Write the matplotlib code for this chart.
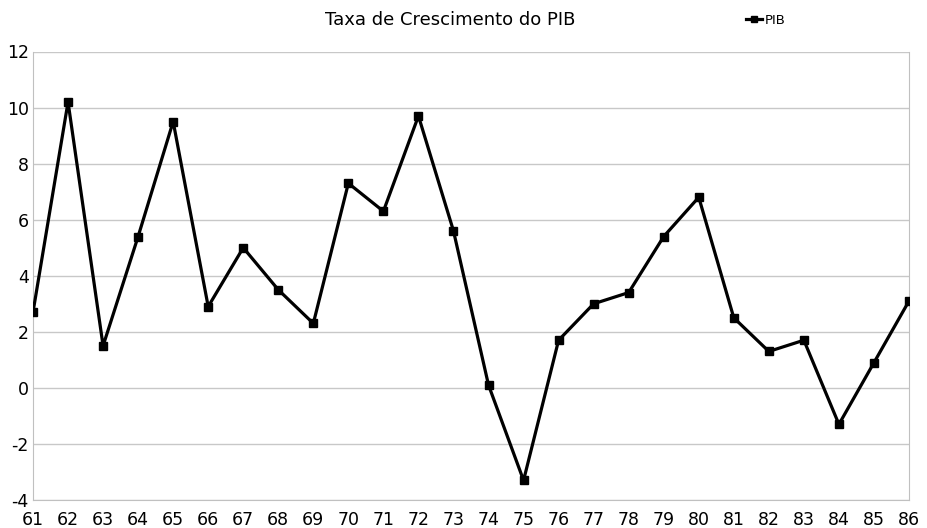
import matplotlib
matplotlib.use("Agg")
import matplotlib.pyplot as plt

plt.rcParams["axes.unicode_minus"] = False

years = list(range(61, 87))
pib = [2.7, 10.2, 1.5, 5.4, 9.5, 2.9, 5.0, 3.5, 2.3, 7.3, 6.3, 9.7, 5.6,
       0.1, -3.3, 1.7, 3.0, 3.4, 5.4, 6.8, 2.5, 1.3, 1.7, -1.3, 0.9, 3.1]
yticks = [-4, -2, 0, 2, 4, 6, 8, 10, 12]

fig = plt.figure(figsize=(9.27, 5.28), dpi=100)
ax = fig.add_axes([33 / 927, 28 / 528, 876 / 927, 448.5 / 528])

ax.plot(years, pib, color="black", lw=2.3, marker="s", ms=6,
        label="PIB", zorder=3)

ax.set_xlim(61, 86)
ax.set_ylim(-4, 12)
ax.set_xticks(years)
ax.set_xticklabels([str(y) for y in years])
ax.set_yticks(yticks)
ax.grid(axis="y", color="#c8c8c8", lw=1)
ax.set_axisbelow(True)
for side in ["left", "right", "bottom", "top"]:
    ax.spines[side].set_color("#c0c0c0")
ax.spines["top"].set_visible(False)
ax.tick_params(axis="both", length=0, labelsize=12.5)
ax.tick_params(axis="x", pad=8)
ax.tick_params(axis="y", pad=3)

fig.text(450 / 927, 1 - 20 / 528, "Taxa de Crescimento do PIB",
         ha="center", va="center", fontsize=13)
ax.legend(loc="center", bbox_to_anchor=(766 / 927, 1 - 20 / 528),
          bbox_transform=fig.transFigure, frameon=False, fontsize=9.5,
          handlelength=1.2, handletextpad=0.2, markerscale=0.8)

fig.savefig("out.png", dpi=100)
